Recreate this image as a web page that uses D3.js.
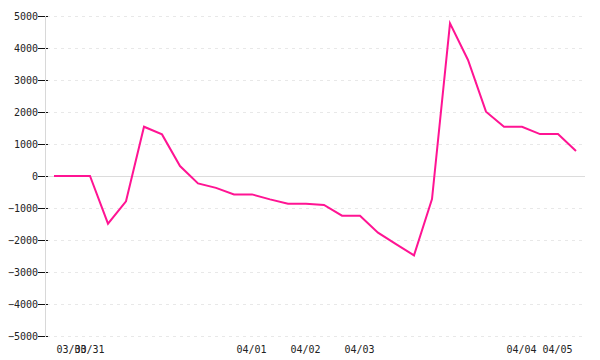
<!DOCTYPE html>
<html>
<head>
<meta charset="utf-8">
<script src="https://cdn.jsdelivr.net/npm/d3@7"></script>
<style>
  body { margin: 0; background: #fff; }
  text { font-family: "DejaVu Sans Mono", monospace; font-size: 10px; fill: #222; }
</style>
</head>
<body>
<div id="chart"></div>
<script>
// values per sample, left to right
const values = [0, 0, 0, -1490, -790, 1540, 1300, 310, -230, -370,
  -575, -575, -730, -865, -865, -905, -1240, -1240, -1770, -2130,
  -2480, -720, 4770, 3625, 2010, 1540, 1540, 1310, 1310, 780];
// date labels and the sample they sit under
const tickIndex = [1, 2, 11, 14, 17, 26, 28];
const tickLabels = ["03/30", "03/31", "04/01", "04/02", "04/03", "04/04", "04/05"];
const yTicks = [-5000, -4000, -3000, -2000, -1000, 0, 1000, 2000, 3000, 4000, 5000];

let svgWidth = 600;
let svgHeight = 360;
let margin = { top: 16, right: 15, bottom: 24, left: 45 };
let width = svgWidth - margin.left - margin.right;
let height = svgHeight - margin.top - margin.bottom;

let svg = d3.select("#chart")
  .append("svg")
  .attr("width", svgWidth)
  .attr("height", svgHeight)
  .append("g")
  .attr("transform", "translate(" + margin.left + "," + margin.top + ")");

let x = d3.scalePoint()
  .domain(values.map((d, i) => i))
  .range([0, width])
  .padding(0.5);

let y = d3.scaleLinear()
  .domain([-5000, 5000])
  .range([height, 0]);

// dashed grid lines
svg.append("g")
  .selectAll("line")
  .data(yTicks.filter(d => d !== 0))
  .enter().append("line")
  .attr("x1", 2)
  .attr("x2", width)
  .attr("y1", d => Math.round(y(d)) + 0.5)
  .attr("y2", d => Math.round(y(d)) + 0.5)
  .attr("stroke", "#e8e8e8")
  .attr("stroke-dasharray", "3,4");

// zero line
svg.append("line")
  .attr("x1", 0)
  .attr("x2", width)
  .attr("y1", y(0) + 0.5)
  .attr("y2", y(0) + 0.5)
  .attr("stroke", "#dcdcdc");

// y axis
let leftAxis = d3.axisLeft(y)
  .tickValues(yTicks)
  .tickFormat(d3.format("d"))
  .tickSize(0)
  .tickPadding(7);
let yAxis = svg.append("g").call(leftAxis);
yAxis.select(".domain").remove();
yAxis.selectAll(".tick line")
  .attr("x1", -7)
  .attr("x2", 3)
  .attr("stroke", "#111");
yAxis.attr("font-family", null).attr("font-size", null);

svg.append("line")
  .attr("x1", 0.5)
  .attr("x2", 0.5)
  .attr("y1", 0)
  .attr("y2", height + 1)
  .attr("stroke", "#d8d8d8");

// x axis labels
let bottomAxis = d3.axisBottom(x)
  .tickValues(tickIndex)
  .tickFormat((d, i) => tickLabels[i])
  .tickSize(0)
  .tickPadding(10);
let xAxis = svg.append("g")
  .attr("transform", "translate(-1," + height + ")")
  .call(bottomAxis);
xAxis.select(".domain").remove();
xAxis.attr("font-family", null).attr("font-size", null);

// the series
let line = d3.line()
  .x((d, i) => x(i))
  .y(d => y(d));

svg.append("path")
  .datum(values)
  .attr("fill", "none")
  .attr("stroke", "#ff1493")
  .attr("stroke-width", 2)
  .attr("d", line);
</script>
</body>
</html>
